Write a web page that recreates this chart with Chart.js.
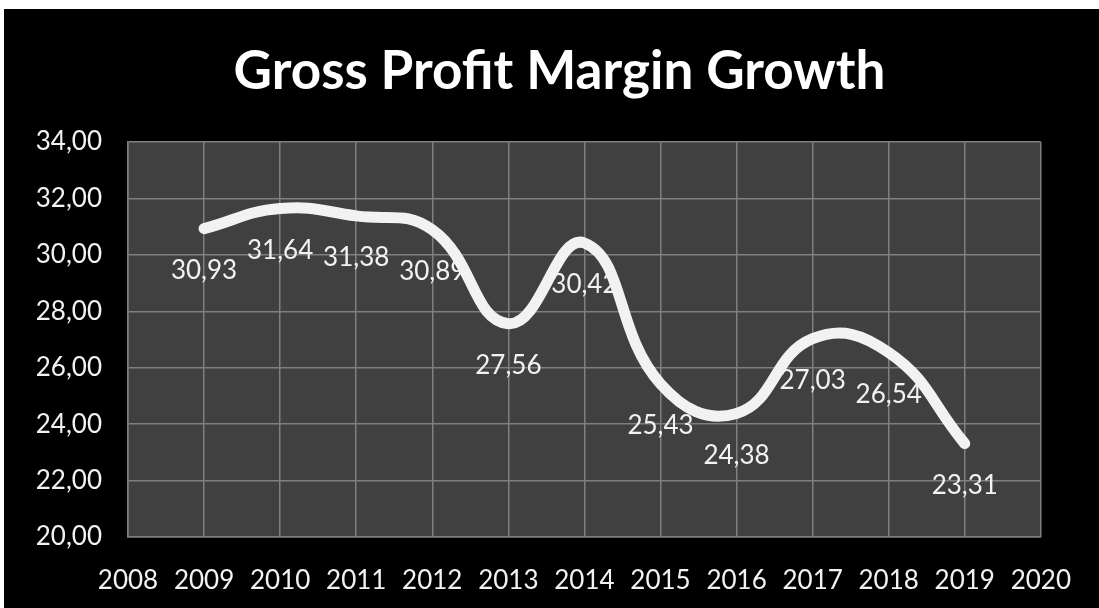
<!DOCTYPE html>
<html>
<head>
<meta charset="utf-8">
<title>Gross Profit Margin Growth</title>
<script src="https://cdn.jsdelivr.net/npm/chart.js@4/dist/chart.umd.min.js"></script>
<style>
  html, body { margin: 0; padding: 0; background: #fff; overflow: hidden; }
  #wrap { position: absolute; left: 4px; top: 9px; width: 1095px; height: 599px; background: #000; }
</style>
</head>
<body>
<div id="wrap"><canvas id="gpm"></canvas></div>
<script>
var years = [2009, 2010, 2011, 2012, 2013, 2014, 2015, 2016, 2017, 2018, 2019];
var margins = [30.93, 31.64, 31.38, 30.89, 27.56, 30.42, 25.43, 24.38, 27.03, 26.54, 23.31];
var yearRange = [2008, 2020];
var marginRange = [20, 34];
var chartTitle = 'Gross Profit Margin Growth';

var FONT = 'Lato, "Open Sans", sans-serif';

function komma(v) {
    return v.toFixed(2).replace('.', ',');
}

// grey plot area + heading (centred on the whole frame, not the plot)
var frame = {
    id: 'frame',
    beforeDraw: function (chart) {
        var a = chart.chartArea, c = chart.ctx;
        c.save();
        c.fillStyle = '#404040';
        c.fillRect(a.left, a.top, a.right - a.left, a.bottom - a.top);
        c.fillStyle = '#ffffff';
        c.font = 'bold 53px ' + FONT;
        c.textAlign = 'center';
        c.textBaseline = 'middle';
        c.fillText(chartTitle, chart.width / 2 + 8, 63);
        c.restore();
    }
};

// value labels under each point, drawn before the line so it covers them
var valueLabels = {
    id: 'valueLabels',
    beforeDatasetsDraw: function (chart) {
        var c = chart.ctx;
        var meta = chart.getDatasetMeta(0);
        c.save();
        c.font = '26px ' + FONT;
        c.fillStyle = '#f2f2f2';
        c.textAlign = 'center';
        c.textBaseline = 'middle';
        meta.data.forEach(function (pt, i) {
            c.fillText(komma(margins[i]), pt.x, pt.y + 42);
        });
        c.restore();
    }
};

var ctx = document.getElementById('gpm').getContext('2d');
var chart = new Chart(ctx, {
    type: 'line',
    data: {
        datasets: [{
            data: years.map(function (y, i) { return { x: y, y: margins[i] }; }),
            borderColor: '#f2f2f2',
            borderWidth: 11,
            borderCapStyle: 'round',
            borderJoinStyle: 'round',
            pointRadius: 0,
            tension: 0.45,
            fill: false
        }]
    },
    options: {
        responsive: true,
        maintainAspectRatio: false,
        animation: false,
        layout: { padding: { left: 0, right: 57, top: 133, bottom: 0 } },
        plugins: {
            legend: { display: false },
            tooltip: { enabled: false },
            title: { display: false }
        },
        scales: {
            x: {
                type: 'linear',
                min: yearRange[0],
                max: yearRange[1],
                grid: { color: '#7f7f7f', lineWidth: 1.5, drawTicks: false },
                border: { color: '#7f7f7f', width: 1.5 },
                ticks: {
                    stepSize: 1,
                    color: '#f2f2f2',
                    font: { family: FONT, size: 26 },
                    padding: 28,
                    maxRotation: 0,
                    autoSkip: false,
                    callback: function (v) { return String(v); }
                },
                afterFit: function (s) { s.height = 71; }
            },
            y: {
                min: marginRange[0],
                max: marginRange[1],
                grid: { color: '#7f7f7f', lineWidth: 1.5, drawTicks: false },
                border: { color: '#7f7f7f', width: 1.5 },
                ticks: {
                    stepSize: 2,
                    color: '#f2f2f2',
                    font: { family: FONT, size: 26 },
                    padding: 26,
                    callback: function (v) { return komma(v); }
                },
                afterFit: function (s) { s.width = 124; }
            }
        }
    },
    plugins: [frame, valueLabels]
});
</script>
</body>
</html>
